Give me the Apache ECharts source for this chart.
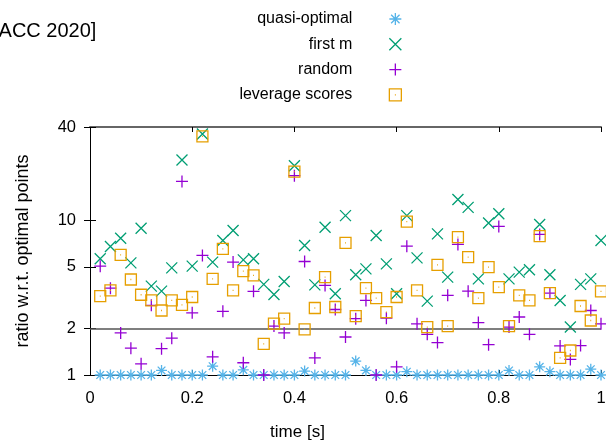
<!DOCTYPE html>
<html><head><meta charset="utf-8">
<script src="https://cdn.jsdelivr.net/npm/echarts@6/dist/echarts.min.js"></script>
<style>html,body{margin:0;padding:0;background:#fff}#c{width:606px;height:448px}</style>
</head><body><div id="c"></div>
<script>
const timeValues = [0.02,0.04,0.06,0.08,0.10,0.12,0.14,0.16,0.18,0.20,
  0.22,0.24,0.26,0.28,0.30,0.32,0.34,0.36,0.38,0.40,
  0.42,0.44,0.46,0.48,0.50,0.52,0.54,0.56,0.58,0.60,
  0.62,0.64,0.66,0.68,0.70,0.72,0.74,0.76,0.78,0.80,
  0.82,0.84,0.86,0.88,0.90,0.92,0.94,0.96,0.98,1.00];
const quasiOptimal = [1,1,1,1,1,1,1.07,1,1,1,
  1,1.14,1,1,1.08,1,1,1,1,1,
  1.06,1,1,1,1,1.23,1.07,1,1,1,
  1.05,1,1,1,1,1,1,1,1,1,
  1.07,1,1,1.13,1.05,1,1,1,1.09,1];
const firstM = [5.63,6.77,7.65,5.30,8.88,3.75,3.48,4.92,24.5,5.05,
  36.0,5.36,7.40,8.58,5.54,5.63,3.85,3.31,4.02,22.5,
  6.87,3.82,9.01,3.35,10.7,4.44,4.85,7.96,5.22,3.35,
  10.7,5.71,3.00,8.16,4.29,13.6,12.1,4.18,9.60,11.0,
  4.18,4.62,4.78,9.38,4.44,3.03,2.04,3.85,4.18,7.40];
const randomPts = [5.05,3.64,1.87,1.49,1.18,2.82,1.48,1.73,17.8,2.52,
  5.92,1.31,2.58,5.36,1.20,3.47,1.00,2.07,1.87,19.4,
  5.41,1.29,3.79,2.65,1.76,2.31,3.03,1.00,2.33,1.13,
  6.80,2.14,1.83,1.62,3.27,6.97,3.48,2.18,1.57,9.11,
  2.04,2.37,1.83,8.09,3.38,1.54,1.26,1.55,2.61,2.14];
const leverageScores = [3.23,3.52,5.97,4.14,3.30,3.03,2.61,3.03,2.84,3.19,
  34.8,4.18,6.53,3.52,4.69,4.40,1.59,2.15,2.31,20.6,
  1.97,2.71,4.29,2.75,7.14,2.40,3.64,3.14,2.55,3.19,
  9.80,3.52,2.04,5.15,2.07,7.77,5.77,3.14,4.97,3.70,
  2.07,3.27,3.03,7.88,3.38,1.29,1.44,2.79,2.25,3.47];
const seriesNames = ['quasi-optimal','first m','random','leverage scores'];
const xTickValues = [0,0.2,0.4,0.6,0.8,1];
const yTickValues = [1,2,5,10,40];
const refLineValue = 2;

const FONT = 'Liberation Sans';
const colors = ['#56b4e9','#009e73','#9400d3','#e69f00'];
const symbols = [
  'path://M5,0L5,10M0,5L10,5M1.5,1.5L8.5,8.5M8.5,1.5L1.5,8.5',
  'path://M0,0L10,10M10,0L0,10',
  'path://M5,0L5,10M0,5L10,5',
  'path://M0,0L10,0L10,10L0,10ZM4.6,5L5.4,5'
];
const sizes = [11,11,12,11];
const allData = [quasiOptimal, firstM, randomPts, leverageScores];

function pairs(arr){ return timeValues.map((t,i)=>[t, arr[i]]); }

const series = allData.map((arr, i) => ({
  name: seriesNames[i],
  type: 'scatter',
  data: pairs(arr),
  symbol: symbols[i],
  symbolSize: sizes[i],
  symbolKeepAspect: true,
  clip: false,
  silent: true,
  itemStyle: {color: 'rgba(0,0,0,0)', borderColor: colors[i], borderWidth: 1.3, opacity: 1},
  emphasis: {disabled: true},
  z: 3 + i
}));
series[0].markLine = {
  silent: true, symbol: 'none', animation: false,
  label: {show: false},
  lineStyle: {color: '#555', width: 1.5, type: 'solid'},
  data: [{yAxis: refLineValue}]
};

const chart = echarts.init(document.getElementById('c'), null, {renderer: 'canvas'});
chart.setOption({
  animation: false,
  backgroundColor: '#fff',
  textStyle: {fontFamily: FONT},
  grid: {left: 90, right: 5, top: 127, bottom: 73, containLabel: false, outerBoundsMode: 'none'},
  graphic: [{
    type: 'text', x: -7, y: 31,
    style: {text: '[ACC 2020]', font: '20px "Liberation Sans"', fill: '#000', verticalAlign: 'middle', align: 'left'}
  }],
  legend: {
    orient: 'vertical', right: 204, top: 9, align: 'right', padding: 0,
    itemGap: 5.3, itemWidth: 12, itemHeight: 12,
    selectedMode: false,
    textStyle: {fontFamily: FONT, fontSize: 16, color: '#000', lineHeight: 20, padding: [0, 32, 0, 0]},
    itemStyle: {borderWidth: 1.3},
    data: seriesNames
  },
  xAxis: [{
    type: 'value', min: 0, max: 1, interval: 0.2, position: 'bottom',
    name: 'time [s]', nameLocation: 'middle', nameGap: 49,
    nameTextStyle: {fontFamily: FONT, fontSize: 17, color: '#000', padding: [0, 96, 0, 0]},
    axisLine: {show: true, lineStyle: {color: '#000', width: 1}},
    axisTick: {show: true, inside: true, length: 5, lineStyle: {color: '#000'}},
    axisLabel: {fontFamily: FONT, fontSize: 16.5, color: '#000', margin: 15, customValues: xTickValues},
    splitLine: {show: false}
  }, {
    type: 'value', min: 0, max: 1, interval: 0.2, position: 'top',
    axisLine: {show: true, lineStyle: {color: '#666', width: 2}},
    axisTick: {show: true, inside: true, length: 5, lineStyle: {color: '#000'}},
    axisLabel: {show: false},
    splitLine: {show: false}
  }],
  yAxis: [{
    type: 'log', logBase: 10, min: 1, max: 40, position: 'left',
    name: 'ratio w.r.t. optimal points', nameLocation: 'middle', nameGap: 58, nameRotate: 90,
    nameTextStyle: {fontFamily: FONT, fontSize: 18, color: '#000'},
    axisLine: {show: true, lineStyle: {color: '#000', width: 1}},
    axisTick: {show: true, inside: true, length: 6, lineStyle: {color: '#000'}, customValues: yTickValues},
    axisLabel: {fontFamily: FONT, fontSize: 16.5, color: '#000', margin: 14, customValues: yTickValues},
    splitLine: {show: false},
    minorTick: {show: false}
  }, {
    type: 'log', logBase: 10, min: 1, max: 40, position: 'right',
    axisLine: {show: true, lineStyle: {color: '#000', width: 1}},
    axisTick: {show: true, inside: true, length: 6, lineStyle: {color: '#000'}, customValues: yTickValues},
    axisLabel: {show: false},
    splitLine: {show: false}
  }],
  series: series
});
</script>
</body></html>
